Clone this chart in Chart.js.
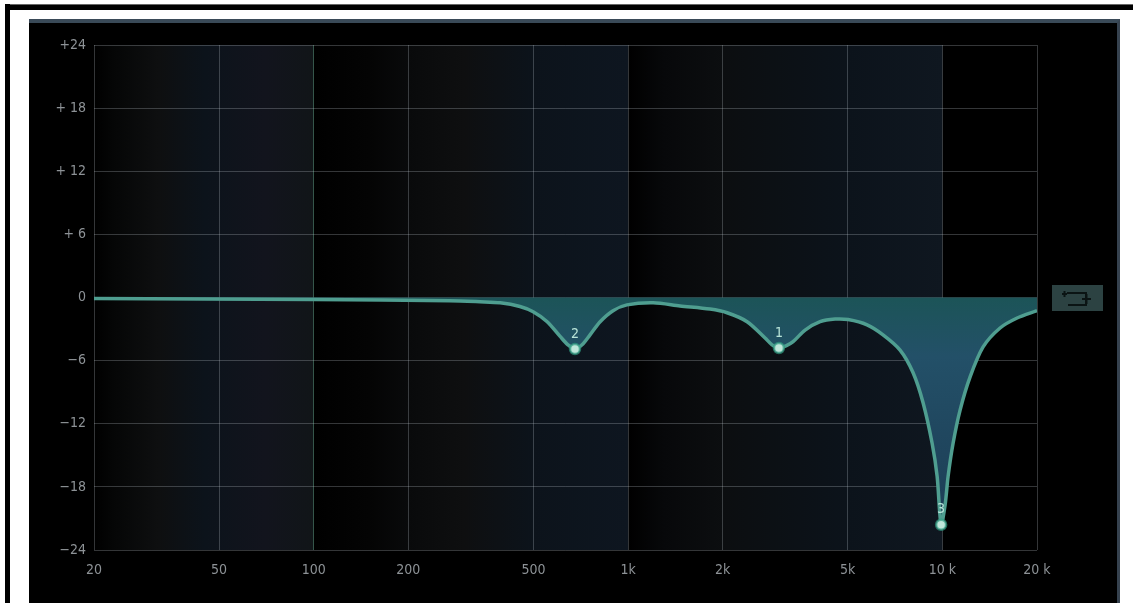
<!DOCTYPE html>
<html>
<head>
<meta charset="utf-8">
<title>EQ</title>
<script src="https://cdn.jsdelivr.net/npm/chart.js@4"></script>
<style>
html, body { margin: 0; padding: 0; background: #fff; overflow: hidden; }
#topLine { position: absolute; left: 5px; top: 4px; width: 1128px; height: 6px; background: #000; border-top: 1px solid #666; box-sizing: border-box; }
#leftLine { position: absolute; left: 5px; top: 4px; width: 5px; height: 599px; background: #000; }
#panel { position: absolute; left: 29px; top: 19px; width: 1091px; height: 584px; background: #000; border-top: 4px solid #3a4a58; border-right: 3px solid #36424f; box-sizing: border-box; }
#grafico { position: absolute; left: 29px; top: 19px; filter: blur(0.5px); }
#botao { position: absolute; left: 1052px; top: 285px; width: 51px; height: 26px; background: #2c4242; filter: blur(0.5px); }
</style>
</head>
<body>
<div id="topLine"></div>
<div id="leftLine"></div>
<div id="panel"></div>
<canvas id="grafico" width="1088" height="584"></canvas>
<div id="botao">
  <svg width="51" height="26" fill="none" stroke="#0b1414" stroke-width="2">
    <path d="M10 9H15M12.500 6V12M15 8H34V20H16M30 14H39M34.500 9V19"/>
  </svg>
</div>
<script>
// dados
const xTicks = [20, 50, 100, 200, 500, 1000, 2000, 5000, 10000, 20000];
const xTickLabels = ['20', '50', '100', '200', '500', '1k', '2k', '5k', '10 k', '20 k'];
const yTicks = [-24, -18, -12, -6, 0, 6, 12, 18, 24];
const yTickLabels = ['−24', '−18', '−12', '−6', '0', '+ 6', '+ 12', '+ 18', '+24'];

const freqs = [20, 100, 271, 338, 392, 453, 499, 553, 608, 644, 678, 714, 757, 815, 896, 992, 1202, 1464, 1824, 2066, 2392, 2729, 2871, 3020, 3181, 3350, 3658, 4083, 4558, 5012, 5760, 6474, 7336, 8070, 8682, 9276, 9623, 9908, 10203, 10428, 10816, 11386, 12252, 13476, 15260, 17290, 20000];
const gains = [-0.1, -0.2, -0.3, -0.4, -0.5, -0.85, -1.35, -2.3, -3.7, -4.5, -4.9, -4.5, -3.55, -2.3, -1.25, -0.7, -0.5, -0.8, -1.1, -1.45, -2.3, -3.85, -4.5, -4.8, -4.6, -4.2, -3.1, -2.3, -2.05, -2.1, -2.6, -3.55, -5.0, -7.15, -10.0, -13.85, -17.0, -21.6, -19.7, -17.0, -13.85, -10.7, -7.55, -4.7, -2.9, -1.95, -1.25];

const nodeFreqs = [3020, 678, 9908];
const nodeGains = [-4.8, -4.9, -21.6];
const nodeLabels = ['1', '2', '3'];

// faixas de fundo, uma por decada
const bandas = [
    [[20, '#000000'], [23, '#050606'], [32, '#0e0f10'], [45, '#0c131b'], [70, '#12141d'], [100, '#111518']],
    [[100, '#000000'], [150, '#040404'], [200, '#090a0b'], [300, '#0e0f10'], [500, '#0c131b'], [1000, '#0e1620']],
    [[1000, '#000000'], [1300, '#07080a'], [2000, '#0c0e10'], [5000, '#0c131b'], [10000, '#0f1720']]
];

const fundoPlugin = {
    id: 'fundo',
    beforeDraw(chart) {
        const { ctx, chartArea: area, scales: { x } } = chart;
        ctx.save();
        bandas.forEach(banda => {
            const x0 = x.getPixelForValue(banda[0][0]);
            const x1 = x.getPixelForValue(banda[banda.length - 1][0]);
            const grad = ctx.createLinearGradient(x0, 0, x1, 0);
            banda.forEach(([f, cor]) => grad.addColorStop((x.getPixelForValue(f) - x0) / (x1 - x0), cor));
            ctx.fillStyle = grad;
            ctx.fillRect(x0, area.top, x1 - x0, area.bottom - area.top);
        });
        ctx.restore();
    }
};

const rotulosPlugin = {
    id: 'rotulos',
    afterDatasetsDraw(chart) {
        const { ctx, scales: { x, y } } = chart;
        ctx.save();
        ctx.font = '14px "DejaVu Sans Condensed", "Liberation Sans"';
        ctx.fillStyle = '#b8e4d8';
        ctx.textAlign = 'center';
        ctx.textBaseline = 'middle';
        nodeLabels.forEach((txt, i) => {
            ctx.fillText(txt, x.getPixelForValue(nodeFreqs[i]), y.getPixelForValue(nodeGains[i]) - 15);
        });
        ctx.restore();
    }
};

const ctx = document.getElementById('grafico').getContext('2d');
const gradFill = ctx.createLinearGradient(0, 280, 0, 510);
gradFill.addColorStop(0, '#1c5458');
gradFill.addColorStop(0.25, '#235068');
gradFill.addColorStop(1, '#1c3c54');

const corTexto = '#8d9296';
const corGrid = 'rgba(200,210,215,0.26)';
const fonteEixo = { family: '"DejaVu Sans Condensed", "Liberation Sans"', size: 14 };

new Chart(ctx, {
    type: 'line',
    data: {
        datasets: [{
            data: nodeFreqs.map((f, i) => ({ x: f, y: nodeGains[i] })),
            showLine: false,
            pointRadius: 5,
            pointBackgroundColor: '#bfe6da',
            pointBorderColor: 'rgba(47,154,128,0.7)',
            pointBorderWidth: 2.5
        }, {
            data: freqs.map((f, i) => ({ x: f, y: gains[i] })),
            borderColor: '#4f9e90',
            borderWidth: 3.5,
            backgroundColor: gradFill,
            fill: { value: 0 },
            tension: 0.3,
            pointRadius: 0
        }]
    },
    options: {
        responsive: false,
        animation: false,
        layout: { padding: { left: 0, right: 80, top: 26, bottom: 0 } },
        plugins: { legend: { display: false }, tooltip: { enabled: false } },
        scales: {
            x: {
                type: 'logarithmic',
                min: 20,
                max: 20000,
                afterBuildTicks: (scale) => { scale.ticks = xTicks.map(v => ({ value: v })); },
                afterFit: (scale) => { scale.height = 53; },
                grid: {
                    color: (c) => c.tick.value === 100 ? 'rgba(90,150,125,0.55)' : corGrid,
                    drawTicks: false
                },
                border: { display: false },
                ticks: {
                    color: corTexto,
                    autoSkip: false,
                    maxRotation: 0,
                    padding: 12,
                    font: fonteEixo,
                    callback: (v) => xTickLabels[xTicks.indexOf(v)]
                }
            },
            y: {
                min: -24,
                max: 24,
                afterBuildTicks: (scale) => { scale.ticks = yTicks.map(v => ({ value: v })); },
                afterFit: (scale) => { scale.width = 65; },
                grid: { color: corGrid, drawTicks: false },
                border: { display: false },
                ticks: {
                    color: corTexto,
                    padding: 8,
                    font: fonteEixo,
                    callback: (v) => yTickLabels[yTicks.indexOf(v)]
                }
            }
        }
    },
    plugins: [fundoPlugin, rotulosPlugin]
});
</script>
</body>
</html>
